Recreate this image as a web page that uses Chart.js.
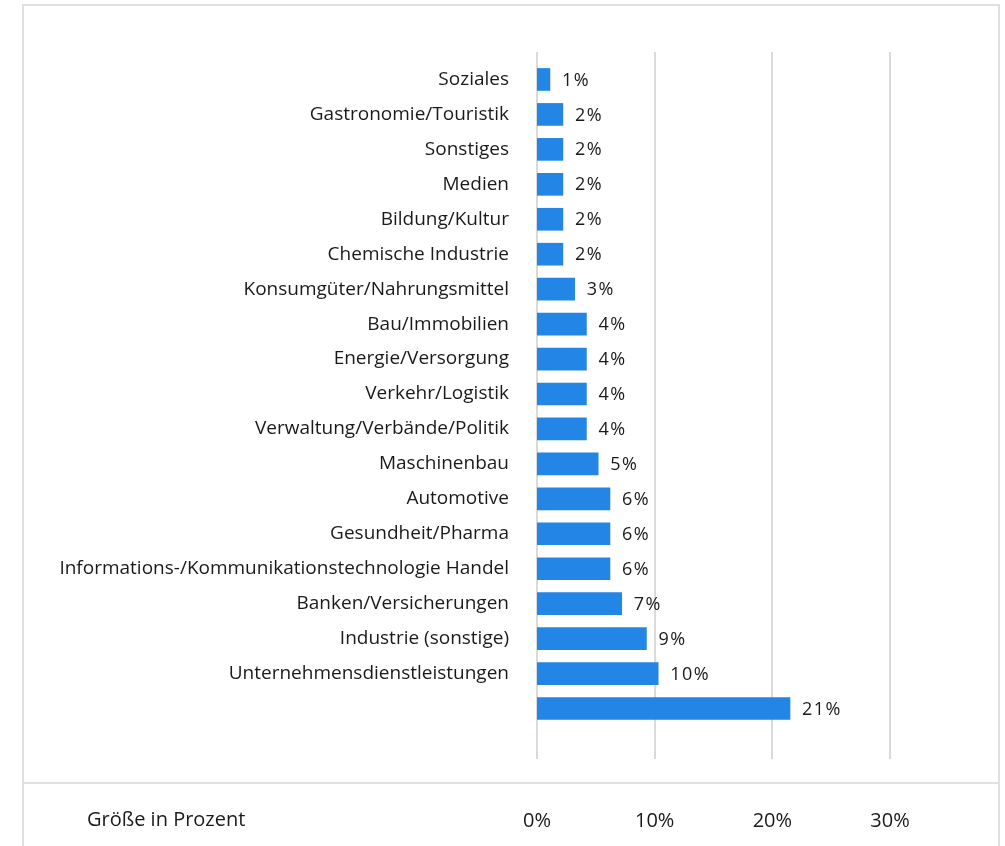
<!DOCTYPE html>
<html>
<head>
<meta charset="utf-8">
<script src="https://cdn.jsdelivr.net/npm/chart.js@4"></script>
<style>
  html, body { margin: 0; padding: 0; background: #fff; overflow: hidden; }
  #wrap { width: 1005px; height: 846px; position: relative; }
</style>
</head>
<body>
<div id="wrap"><canvas id="chart"></canvas></div>
<script>
var categories = ["Soziales", "Gastronomie/Touristik", "Sonstiges", "Medien", "Bildung/Kultur",
    "Chemische Industrie", "Konsumgüter/Nahrungsmittel", "Bau/Immobilien", "Energie/Versorgung",
    "Verkehr/Logistik", "Verwaltung/Verbände/Politik", "Maschinenbau", "Automotive",
    "Gesundheit/Pharma", "Informations-/Kommunikationstechnologie Handel", "Banken/Versicherungen",
    "Industrie (sonstige)", "Unternehmensdienstleistungen", ""];
var shares = [1.1, 2.2, 2.2, 2.2, 2.2, 2.2, 3.2, 4.2, 4.2, 4.2, 4.2, 5.2, 6.2, 6.2, 6.2, 7.2, 9.3, 10.3, 21.5];
var shareLabels = ["1%", "2%", "2%", "2%", "2%", "2%", "3%", "4%", "4%", "4%", "4%", "5%", "6%", "6%", "6%", "7%", "9%", "10%", "21%"];
var xTicks = [0, 10, 20, 30];
var axisTitle = "Größe in Prozent";

var fontFamily = "'Open Sans', sans-serif";
var textColor = "#1a1a1a";
var lineColor = "#e0e0e0";

// frame, bottom rule, vertical grid lines and the axis title
var decoPlugin = {
    id: 'deco',
    beforeDatasetsDraw: function(chart) {
        var ctx = chart.ctx;
        var x = chart.scales.x;
        ctx.save();
        ctx.strokeStyle = lineColor;
        ctx.lineWidth = 2;
        ctx.beginPath();
        ctx.moveTo(23, 846);
        ctx.lineTo(23, 5);
        ctx.lineTo(999, 5);
        ctx.lineTo(999, 846);
        ctx.moveTo(23, 783);
        ctx.lineTo(999, 783);
        ctx.stroke();

        ctx.strokeStyle = "#dadada";
        for (var v of xTicks) {
            var px = Math.round(x.getPixelForValue(v));
            ctx.beginPath();
            ctx.moveTo(px, 52);
            ctx.lineTo(px, 759);
            ctx.stroke();
        }

        ctx.fillStyle = textColor;
        ctx.font = "20px " + fontFamily;
        ctx.textAlign = "left";
        ctx.textBaseline = "middle";
        ctx.fillText(axisTitle, 87, 820);
        ctx.restore();
    },
    afterDatasetsDraw: function(chart) {
        var ctx = chart.ctx;
        var meta = chart.getDatasetMeta(0);
        ctx.save();
        ctx.fillStyle = textColor;
        ctx.font = "18px " + fontFamily;
        ctx.textAlign = "left";
        ctx.textBaseline = "middle";
        ctx.letterSpacing = "1.5px";
        meta.data.forEach(function(bar, i) {
            ctx.fillText(shareLabels[i], bar.x + 12, bar.y + 1);
        });
        ctx.restore();
    }
};

var ctx = document.getElementById('chart').getContext('2d');
var myChart = new Chart(ctx, {
    type: 'bar',
    data: {
        labels: categories,
        datasets: [{
            data: shares,
            backgroundColor: '#2385e6',
            borderWidth: 0,
            barThickness: 22
        }]
    },
    options: {
        indexAxis: 'y',
        responsive: true,
        maintainAspectRatio: false,
        animation: false,
        layout: {
            padding: { top: 62, right: 115, bottom: 0, left: 0 }
        },
        plugins: {
            legend: { display: false },
            tooltip: { enabled: false }
        },
        scales: {
            x: {
                position: 'bottom',
                min: 0,
                max: 30,
                grid: { display: false },
                border: { display: false },
                afterFit: function(scale) { scale.height = 120; },
                ticks: {
                    stepSize: 10,
                    padding: 75,
                    color: textColor,
                    font: { family: fontFamily, size: 20 },
                    callback: function(v) { return v + '%'; }
                }
            },
            y: {
                grid: { display: false },
                border: { display: false },
                afterFit: function(scale) { scale.width = 537; },
                ticks: {
                    padding: 20,
                    autoSkip: false,
                    color: textColor,
                    font: { family: fontFamily, size: 19 }
                }
            }
        }
    },
    plugins: [decoPlugin]
});
</script>
</body>
</html>
